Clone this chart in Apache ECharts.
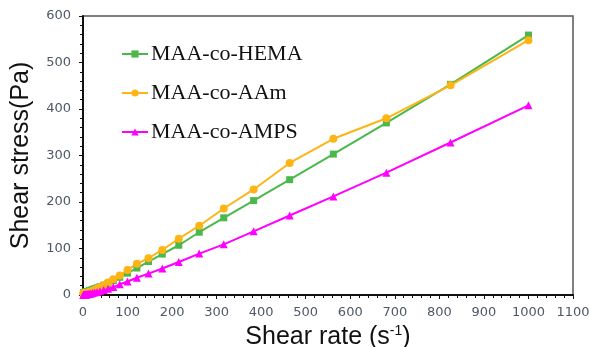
<!DOCTYPE html>
<html>
<head>
<meta charset="utf-8">
<script src="https://cdn.jsdelivr.net/npm/echarts@6/dist/echarts.min.js"></script>
<style>
  html, body { margin: 0; padding: 0; background: #fff; }
  #chart { width: 589px; height: 347px; }
</style>
</head>
<body>
<div id="chart"></div>
<script>
// Shear rate sweep (s^-1), logarithmic steps
const shearRate = [1, 1.21, 1.47, 1.78, 2.15, 2.61, 3.16, 3.83, 4.64, 5.62, 6.81, 8.25,
  10, 12.1, 14.7, 17.8, 21.5, 26.1, 31.6, 38.3, 46.4, 56.2, 68.1, 82.5,
  100, 121, 147, 178, 215, 261, 316, 383, 464, 562, 681, 825, 1000];

// Shear stress (Pa) for each copolymer
const stressHEMA = [4, 4, 4.2, 4.3, 4.5, 4.7, 5, 5.3, 5.6, 6, 6.5, 7,
  7.5, 8.3, 9.3, 10.5, 12, 13.5, 15.5, 18, 21, 25, 31, 38,
  47, 58, 72, 88, 107, 135, 166, 203, 248, 303, 370, 453, 559];
const stressAAm = [3.5, 3.5, 3.6, 3.6, 3.7, 3.7, 3.8, 3.8, 3.9, 4, 4.2, 4.5,
  5, 5.5, 6.5, 7.5, 9, 11, 13.5, 17, 21, 27, 34, 42,
  54, 67, 79, 97, 121, 149, 186, 227, 284, 336, 380, 451, 548];
const stressAMPS = [0.2, 0.2, 0.25, 0.3, 0.35, 0.4, 0.5, 0.6, 0.7, 0.9, 1.1, 1.4,
  1.7, 2.1, 2.6, 3.3, 4.2, 5.2, 6.6, 8.3, 10.5, 13.5, 17, 23,
  29, 37, 46, 57, 71, 89, 109, 137, 171, 212, 263, 328, 408];

const seriesNames = ['MAA-co-HEMA', 'MAA-co-AAm', 'MAA-co-AMPS'];
const xTicks = { min: 0, max: 1100, step: 100 };
const yTicks = { min: 0, max: 600, step: 100 };

const pairs = (xs, ys) => xs.map((x, i) => [x, ys[i]]);

const tickLabel = {
  color: '#4f5866', fontFamily: 'DejaVu Sans', fontSize: 13,
  formatter: v => String(v)
};

const chart = echarts.init(document.getElementById('chart'));
chart.setOption({
  animation: false,
  backgroundColor: '#fff',
  grid: {
    left: 83, right: 16, top: 16, bottom: 52,
    containLabel: false, outerBoundsMode: 'none',
    show: true, borderColor: '#555', borderWidth: 1.5
  },
  legend: {
    orient: 'vertical',
    left: 116, top: 38,
    itemWidth: 26, itemHeight: 9, itemGap: 17,
    textStyle: { fontFamily: 'Liberation Serif', fontSize: 22, color: '#111', padding: [0, 0, 0, -2] },
    data: seriesNames
  },
  xAxis: {
    type: 'value',
    min: xTicks.min, max: xTicks.max, interval: xTicks.step,
    name: 'Shear rate (s{sup|-1})',
    nameLocation: 'middle', nameGap: 21,
    nameTextStyle: {
      fontFamily: 'Liberation Sans', fontSize: 25, color: '#111',
      rich: { sup: { fontFamily: 'Liberation Sans', fontSize: 14, color: '#111', padding: [0, 0, 12, 0] } }
    },
    axisLine: { show: true, lineStyle: { color: '#111', width: 2 } },
    axisTick: { show: true, length: 4, lineStyle: { color: '#111' } },
    minorTick: { show: true, splitNumber: 5, length: 3, lineStyle: { color: '#111' } },
    axisLabel: Object.assign({ margin: 11 }, tickLabel),
    splitLine: { show: false }
  },
  yAxis: {
    type: 'value',
    min: yTicks.min, max: yTicks.max, interval: yTicks.step,
    name: 'Shear stress(Pa)',
    nameLocation: 'middle', nameGap: 49,
    nameTextStyle: { fontFamily: 'Liberation Sans', fontSize: 25, color: '#111' },
    axisLine: { show: true, lineStyle: { color: '#111', width: 2 } },
    axisTick: { show: true, length: 4, lineStyle: { color: '#111' } },
    minorTick: { show: true, splitNumber: 5, length: 3, lineStyle: { color: '#111' } },
    axisLabel: Object.assign({ margin: 12 }, tickLabel),
    splitLine: { show: false }
  },
  series: [
    {
      name: seriesNames[0], type: 'line', data: pairs(shearRate, stressHEMA),
      symbol: 'rect', symbolSize: 7,
      itemStyle: { color: '#4cb84c' }, lineStyle: { color: '#4cb84c', width: 2 }
    },
    {
      name: seriesNames[1], type: 'line', data: pairs(shearRate, stressAAm),
      symbol: 'circle', symbolSize: 8,
      itemStyle: { color: '#fdb515' }, lineStyle: { color: '#fdb515', width: 2 }
    },
    {
      name: seriesNames[2], type: 'line', data: pairs(shearRate, stressAMPS),
      symbol: 'triangle', symbolSize: 8,
      itemStyle: { color: '#ff00ff' }, lineStyle: { color: '#ff00ff', width: 2 }
    }
  ]
});
</script>
</body>
</html>
